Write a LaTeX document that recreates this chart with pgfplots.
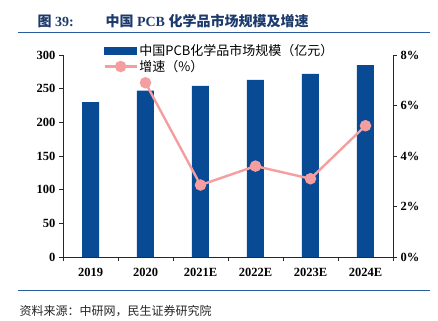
\documentclass[border=0pt]{standalone}
\usepackage{fontspec}
\setmainfont{Liberation Serif}
\newfontfamily\cjk{Noto Sans CJK SC}
\usepackage{pgfplots}
\pgfplotsset{compat=1.18}
\definecolor{barblue}{RGB}{8,74,147}
\definecolor{linepink}{RGB}{244,158,160}
\definecolor{titleblue}{RGB}{28,58,108}
\definecolor{ruleblue}{RGB}{40,92,158}
\pgfplotsset{mylineleg/.style={legend image code/.code={\draw[##1,mark repeat=2,mark phase=2] plot coordinates {(0bp,0bp) (16bp,0bp) (32bp,0bp)};}}}
\begin{document}
\begin{tikzpicture}
\path (0bp,0bp) rectangle (438bp,321bp);
% title
\node[anchor=base west,text=titleblue,font=\fontsize{14bp}{16bp}\selectfont\bfseries] at (34bp,294bp) {{\cjk\bfseries 图} 39:};
\node[anchor=base west,text=titleblue,font=\fontsize{14bp}{16bp}\selectfont\bfseries] at (102bp,294bp) {{\cjk\bfseries 中国} PCB {\cjk\bfseries 化学品市场规模及增速}};
\draw[ruleblue,line width=1.4bp] (18bp,288.5bp) -- (430bp,288.5bp);
\draw[ruleblue,line width=1.2bp] (18bp,30.5bp) -- (430bp,30.5bp);
\node[anchor=base west,font=\cjk\fontsize{12bp}{14bp}\selectfont,text=black!85] at (16bp,6bp) {资料来源：中研网，民生证券研究院};

\pgfplotstableread{
x size
0 230
1 247
2 254
3 263
4 272
5 285
}\sizetab
\pgfplotstableread{
x g
1 6.9
2 2.85
3 3.6
4 3.1
5 5.2
}\growtab

\begin{axis}[
  at={(63bp,64bp)}, anchor=south west,
  scale only axis, width=330bp, height=202bp,
  xmin=-0.5, xmax=5.5, ymin=0, ymax=300,
  axis x line*=bottom, axis y line*=left,
  axis line style={line width=0.9bp, black!85},
  xtick={0,...,5},
  xticklabels={2019,2020,2021E,2022E,2023E,2024E},
  minor xtick={-0.5,0.5,...,5.5},
  major x tick style={draw=none},
  minor tick length=4bp,
  ytick={0,50,...,300},
  major tick length=4bp,
  tick align=outside,
  tick style={line width=0.9bp, black!85},
  ticklabel style={font=\fontsize{12.5bp}{14bp}\selectfont\bfseries},
  xticklabel style={yshift=-4bp},
  /pgf/number format/assume math mode=true,
  clip=false,
]
\addplot[ybar, bar width=17bp, fill=barblue, draw=none] table[x=x,y=size] {\sizetab};
\end{axis}

\begin{axis}[
  at={(63bp,64bp)}, anchor=south west,
  scale only axis, width=330bp, height=202bp,
  xmin=-0.5, xmax=5.5, ymin=0, ymax=8,
  axis x line=none, axis y line*=right,
  axis line style={line width=0.9bp, black!85},
  ytick={0,2,4,6,8},
  yticklabels={0\%,2\%,4\%,6\%,8\%},
  major tick length=4bp,
  tick align=outside,
  tick style={line width=0.9bp, black!85},
  ticklabel style={font=\fontsize{12.5bp}{14bp}\selectfont\bfseries},
  legend style={at={(0.122,1.06)}, anchor=north west, draw=none, fill=none,
    font=\cjk\fontsize{13bp}{15bp}\selectfont, row sep=0bp,
    inner sep=0pt, nodes={inner sep=1.5bp}},
  legend cell align=left,
  clip=false,
]
\addlegendimage{legend image code/.code={\fill[barblue] (0bp,-3.5bp) rectangle (32bp,3.5bp);}}
\addlegendentry{中国PCB化学品市场规模（亿元）}
\addplot[linepink, line width=2.4bp, mark=*, mark size=4.5bp, mark options={fill=linepink,draw=linepink}, mylineleg]
  table[x=x,y=g] {\growtab};
\addlegendentry{增速（\%）}
\end{axis}
\end{tikzpicture}
\end{document}
